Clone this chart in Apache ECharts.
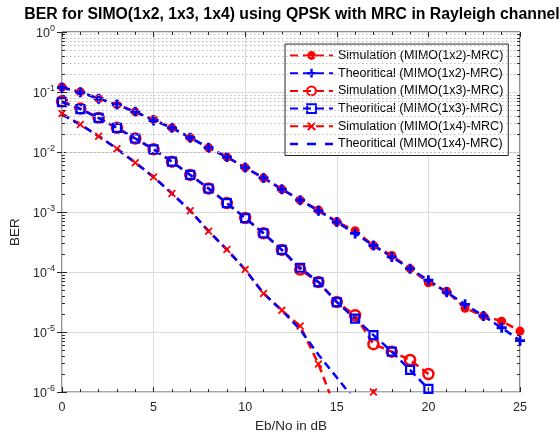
<!DOCTYPE html>
<html>
<head>
<meta charset="utf-8">
<script src="https://cdn.jsdelivr.net/npm/echarts@6/dist/echarts.min.js"></script>
<style>html,body{margin:0;padding:0;background:#fff;}#c{width:560px;height:438px;}</style>
</head>
<body>
<div id="c"></div>
<script>
// ---- data ----
const snr = [0,1,2,3,4,5,6,7,8,9,10,11,12,13,14,15,16,17,18,19,20,21,22,23,24,25];
const sim12  = [0.121,0.100,0.0775,0.0617,0.0467,0.0348,0.0253,0.0173,0.0118,0.00826,0.0055,0.0037,0.0024,0.00158,0.00108,0.00069,0.00049,0.000277,0.000189,0.000114,6.65e-5,4.8e-5,2.5e-5,1.86e-5,1.52e-5,1.04e-5];
const theo12 = [0.118,0.099,0.0775,0.0617,0.0467,0.0335,0.0253,0.0173,0.0118,0.00826,0.0055,0.0037,0.0024,0.00158,0.00105,0.00068,0.00044,0.000277,0.000179,0.000114,7.3e-5,4.6e-5,2.9e-5,1.86e-5,1.18e-5,7.2e-6];
const sim13  = [0.070,0.053,0.037,0.0253,0.0168,0.0111,0.0069,0.00416,0.00247,0.00141,7.95e-4,4.43e-4,2.34e-4,1.1e-4,6.8e-5,3.16e-5,1.91e-5,6.3e-6,4.72e-6,3.43e-6,2.0e-6];
const theo13 = [0.068,0.052,0.037,0.0253,0.0168,0.0111,0.0069,0.00416,0.00247,0.00141,7.95e-4,4.43e-4,2.34e-4,1.18e-4,6.8e-5,3.16e-5,1.68e-5,8.9e-6,4.72e-6,2.34e-6,1.13e-6];
const sim14  = [0.0437,0.0287,0.0184,0.01135,0.00665,0.00384,0.00204,0.00105,4.8e-4,2.37e-4,1.1e-4,4.4e-5,2.3e-5,1.26e-5,2.93e-6,4.6e-7,null,1.0e-6];
const theo14 = [0.0420,0.0287,0.0184,0.01135,0.00665,0.00384,0.00204,0.00105,4.8e-4,2.37e-4,1.1e-4,4.4e-5,2.3e-5,1.1e-5,4.2e-6,1.75e-6,7.3e-7];
const names = ['Simulation (MIMO(1x2)-MRC)','Theoritical (MIMO(1x2)-MRC)','Simulation (MIMO(1x3)-MRC)','Theoritical (MIMO(1x3)-MRC)','Simulation (MIMO(1x4)-MRC)','Theoritical (MIMO(1x4)-MRC)'];
const xTicks = [0,5,10,15,20,25];
const titleText = 'BER for SIMO(1x2, 1x3, 1x4) using QPSK with MRC in Rayleigh channel';

// ---- build ----
const FF = "'Liberation Sans', Arial, sans-serif";
const RED = '#ff0000', BLUE = '#0000ff', AX = '#262626';
const pairs = arr => arr.map((v,i) => [snr[i], v == null ? '-' : v]);
const dash = [8,5];
const plusPath = 'path://M3.6,0H6.4V3.6H10V6.4H6.4V10H3.6V6.4H0V3.6H3.6Z';
const xPath = 'path://M0,1.6L1.6,0L5,3.4L8.4,0L10,1.6L6.6,5L10,8.4L8.4,10L5,6.6L1.6,10L0,8.4L3.4,5Z';
const dashIcon = 'path://M0,0L0,0M43,11L43,11M0,4.3H8V6.7H0ZM17,4.3H26V6.7H17ZM35,4.3H43V6.7H35Z';

// minor log grid + minor ticks
const minorVals = [];
for (let n = 1; n <= 6; n++) for (let k = 2; k <= 9; k++) minorVals.push(k * Math.pow(10, -n));
const gridLines = minorVals.map(v => ({yAxis: v}));
const tickSegs = [];
minorVals.forEach(v => {
  tickSegs.push([{coord:[0, v]}, {coord:[0.16, v]}]);
  tickSegs.push([{coord:[24.84, v]}, {coord:[25, v]}]);
});

function base(name, data, color, extra) {
  return Object.assign({
    name, type: 'line', data: pairs(data), clip: true, showAllSymbol: true,
    connectNulls: false, animation: false,
    lineStyle: {color, width: 2.5, type: dash},
    emphasis: {disabled: true}
  }, extra);
}

const series = [
  {type:'line', data: [], silent: true, animation:false,
   markLine: {silent:true, symbol:['none','none'], label:{show:false}, animation:false,
     lineStyle:{color:'#bdbdbd', type:[1.5,2.5], width:1}, data: gridLines}},
  {type:'line', data: [], silent: true, animation:false,
   markLine: {silent:true, symbol:['none','none'], label:{show:false}, animation:false,
     lineStyle:{color:AX, type:'solid', width:1}, data: tickSegs}},
  base(names[0], sim12, RED, {symbol:'circle', symbolSize:9, itemStyle:{color:RED}}),
  base(names[1], theo12, BLUE, {symbol:plusPath, symbolSize:10, itemStyle:{color:BLUE}}),
  base(names[2], sim13, RED, {symbol:'circle', symbolSize:10, itemStyle:{color:'rgba(0,0,0,0)', borderColor:RED, borderWidth:2.5}}),
  base(names[3], theo13, BLUE, {symbol:'rect', symbolSize:8, itemStyle:{color:'rgba(0,0,0,0)', borderColor:BLUE, borderWidth:2.2}}),
  base(names[4], sim14, RED, {symbol:xPath, symbolSize:8, itemStyle:{color:RED}}),
  base(names[5], theo14, BLUE, {symbol:'none', itemStyle:{color:BLUE}})
];

const legendData = names.map((n, i) => i === 5 ? {name:n, icon:dashIcon, itemStyle:{color:BLUE, borderWidth:0}} : {name:n});

const axisCommonX = {
  type:'value', min:0, max:25, interval:5,
  axisLine:{show:false}, axisTick:{show:true, inside:true, length:5, lineStyle:{color:AX}},
  minorTick:{show:true, splitNumber:5, length:3, lineStyle:{color:AX}}
};
const option = {
  backgroundColor:'#fff',
  animation:false,
  title:{text: titleText, left: 287, textAlign:'center', top: 2,
    textStyle:{fontFamily:FF, fontSize:15.8, fontWeight:'bold', color:'#000'}},
  grid:{left:62, right:40, top:32, bottom:44, show:true, borderColor:AX, borderWidth:1, backgroundColor:'rgba(0,0,0,0)'},
  legend:{orient:'vertical', left:285, top:44, data:legendData, itemWidth:43, itemHeight:11, itemGap:4.7,
    padding:[5,5,5,4], backgroundColor:'#fff', borderColor:AX, borderWidth:1,
    textStyle:{fontFamily:FF, fontSize:12.5, color:'#000'}, selectedMode:false},
  xAxis:[
    Object.assign({}, axisCommonX, {position:'bottom',
      splitLine:{show:true, lineStyle:{color:'#dcdcdc', width:1}},
      axisLabel:{fontFamily:FF, fontSize:12.5, color:AX, margin:9,
        formatter: v => xTicks.indexOf(v) >= 0 ? String(v) : ''},
      name:'Eb/No in dB', nameLocation:'middle', nameGap:26,
      nameTextStyle:{fontFamily:FF, fontSize:13.5, color:AX}}),
    Object.assign({}, axisCommonX, {position:'top', splitLine:{show:false}, axisLabel:{show:false}})
  ],
  yAxis:[
    {type:'log', logBase:10, min:1e-6, max:1, position:'left',
     axisLine:{show:false}, axisTick:{show:true, inside:true, length:5, lineStyle:{color:AX}},
     splitLine:{show:true, lineStyle:{color:'#dcdcdc', width:1}},
     axisLabel:{fontFamily:FF, color:AX, margin:7,
       formatter: v => '{b|10}{s|' + Math.round(Math.log10(v)) + '}',
       rich:{b:{fontFamily:FF, fontSize:12.5, color:AX, verticalAlign:'bottom'},
             s:{fontFamily:FF, fontSize:9, color:AX, verticalAlign:'bottom', padding:[0,0,7,0]}}},
     name:'BER', nameLocation:'middle', nameGap:40,
     nameTextStyle:{fontFamily:FF, fontSize:13.5, color:AX, padding:[0,40,0,0]}},
    {type:'log', logBase:10, min:1e-6, max:1, position:'right',
     axisLine:{show:false}, axisTick:{show:true, inside:true, length:5, lineStyle:{color:AX}},
     splitLine:{show:false}, axisLabel:{show:false}}
  ],
  series: series
};
const chart = echarts.init(document.getElementById('c'), null, {renderer:'canvas'});
chart.setOption(option);
</script>
</body>
</html>
